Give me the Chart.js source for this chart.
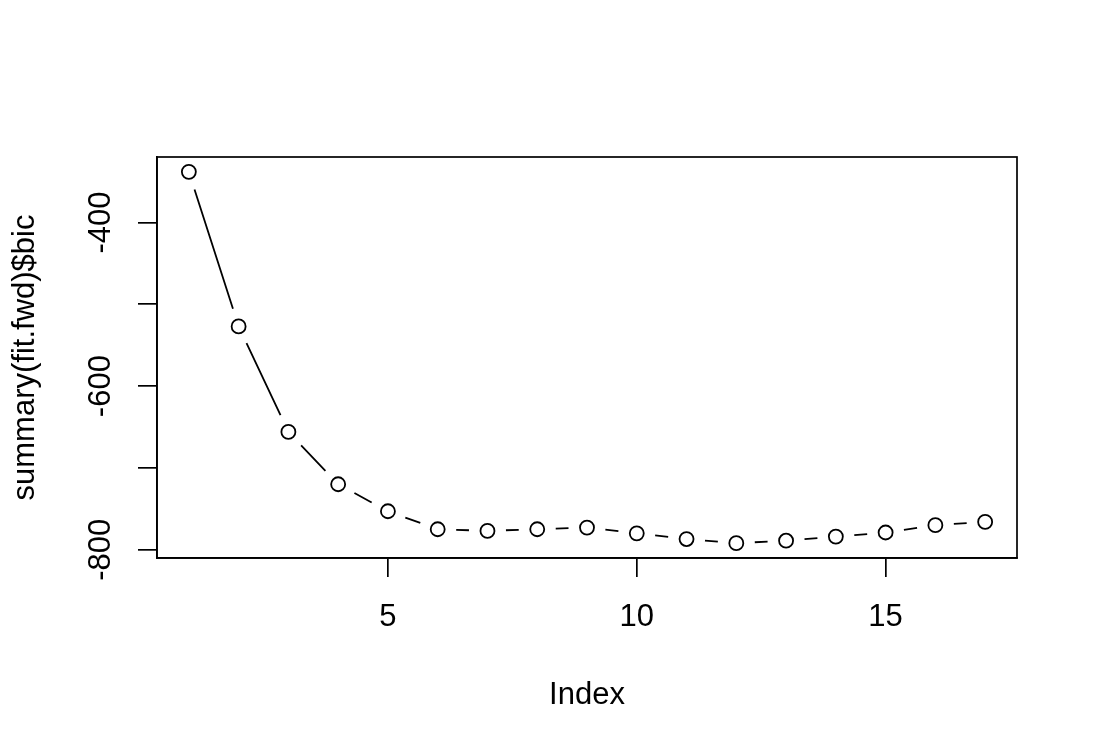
<!DOCTYPE html>
<html>
<head>
<meta charset="utf-8">
<script src="https://cdn.jsdelivr.net/npm/chart.js@4/dist/chart.umd.min.js"></script>
<style>
  html, body { margin: 0; padding: 0; background: #fff; }
  canvas { display: block; }
</style>
</head>
<body>
<canvas id="bicChart" width="1098" height="754"></canvas>
<script>
// values
const index = [1, 2, 3, 4, 5, 6, 7, 8, 9, 10, 11, 12, 13, 14, 15, 16, 17];
const bic = [-338, -527, -656, -720, -753, -775, -777, -775, -773, -780, -787, -792, -789, -784, -779, -770, -766];
const xTicks = [5, 10, 15];
const yTicks = [-800, -700, -600, -500, -400];
const yLabels = [-800, -600, -400];

const FONT = '"Liberation Sans", Arial, Helvetica, sans-serif';

// R-style range: data range extended by 4% on each side
function padRange(vals) {
    const lo = Math.min(...vals), hi = Math.max(...vals);
    const d = (hi - lo) * 0.04;
    return [lo - d, hi + d];
}
const [xMin, xMax] = padRange(index);
const [yMin, yMax] = padRange(bic);

// type = "b": line segments that stop short of each point
const gappedLines = {
    id: 'gappedLines',
    beforeDatasetsDraw(chart) {
        const pts = chart.getDatasetMeta(0).data;
        const ctx = chart.ctx;
        const gap = 18.5;
        ctx.save();
        ctx.strokeStyle = '#000';
        ctx.lineWidth = 1.8;
        ctx.beginPath();
        for (let i = 1; i < pts.length; i++) {
            const a = pts[i - 1], b = pts[i];
            const dx = b.x - a.x, dy = b.y - a.y;
            const len = Math.hypot(dx, dy);
            if (len <= 2 * gap) continue;
            const ux = dx / len, uy = dy / len;
            ctx.moveTo(a.x + ux * gap, a.y + uy * gap);
            ctx.lineTo(b.x - ux * gap, b.y - uy * gap);
        }
        ctx.stroke();
        ctx.restore();
    }
};

// box, rotated y labels and axis titles
const rDecor = {
    id: 'rDecor',
    afterDraw(chart) {
        const ctx = chart.ctx;
        const area = chart.chartArea;
        const yScale = chart.scales.y;
        ctx.save();
        ctx.strokeStyle = '#000';
        ctx.lineWidth = 1.7;
        ctx.strokeRect(area.left, area.top, area.right - area.left, area.bottom - area.top);

        ctx.fillStyle = '#000';
        ctx.font = '31px ' + FONT;
        ctx.textAlign = 'center';
        ctx.textBaseline = 'alphabetic';

        yLabels.forEach(v => {
            ctx.save();
            ctx.translate(110, yScale.getPixelForValue(v));
            ctx.rotate(-Math.PI / 2);
            ctx.fillText(String(v), 0, 0);
            ctx.restore();
        });

        ctx.save();
        ctx.translate(34, (area.top + area.bottom) / 2);
        ctx.rotate(-Math.PI / 2);
        ctx.fillText('summary(fit.fwd)$bic', 0, 0);
        ctx.restore();

        ctx.fillText('Index', (area.left + area.right) / 2, 704);
        ctx.restore();
    }
};

const ctx = document.getElementById('bicChart').getContext('2d');
new Chart(ctx, {
    type: 'scatter',
    data: {
        datasets: [{
            data: index.map((x, i) => ({ x: x, y: bic[i] })),
            showLine: false,
            pointRadius: 7,
            pointHoverRadius: 7,
            pointBorderWidth: 1.8,
            pointBorderColor: '#000',
            pointBackgroundColor: '#fff'
        }]
    },
    options: {
        responsive: false,
        devicePixelRatio: 1,
        animation: false,
        layout: { padding: { top: 157, right: 81, left: 0, bottom: 0 } },
        plugins: {
            legend: { display: false },
            tooltip: { enabled: false }
        },
        scales: {
            x: {
                type: 'linear',
                min: xMin,
                max: xMax,
                afterBuildTicks: scale => { scale.ticks = xTicks.map(v => ({ value: v })); },
                afterFit: scale => { scale.height = 196; },
                border: { display: true, color: '#000', width: 1.7 },
                grid: {
                    drawOnChartArea: false,
                    drawTicks: true,
                    tickLength: 19,
                    color: '#000',
                    lineWidth: 1.7
                },
                ticks: {
                    color: '#000',
                    font: { family: FONT, size: 31 },
                    padding: 22,
                    maxRotation: 0,
                    autoSkip: false
                }
            },
            y: {
                type: 'linear',
                min: yMin,
                max: yMax,
                afterBuildTicks: scale => { scale.ticks = yTicks.map(v => ({ value: v })); },
                afterFit: scale => { scale.width = 157; },
                border: { display: true, color: '#000', width: 1.7 },
                grid: {
                    drawOnChartArea: false,
                    drawTicks: true,
                    tickLength: 19,
                    color: '#000',
                    lineWidth: 1.7
                },
                ticks: { display: false }
            }
        }
    },
    plugins: [gappedLines, rDecor]
});
</script>
</body>
</html>
